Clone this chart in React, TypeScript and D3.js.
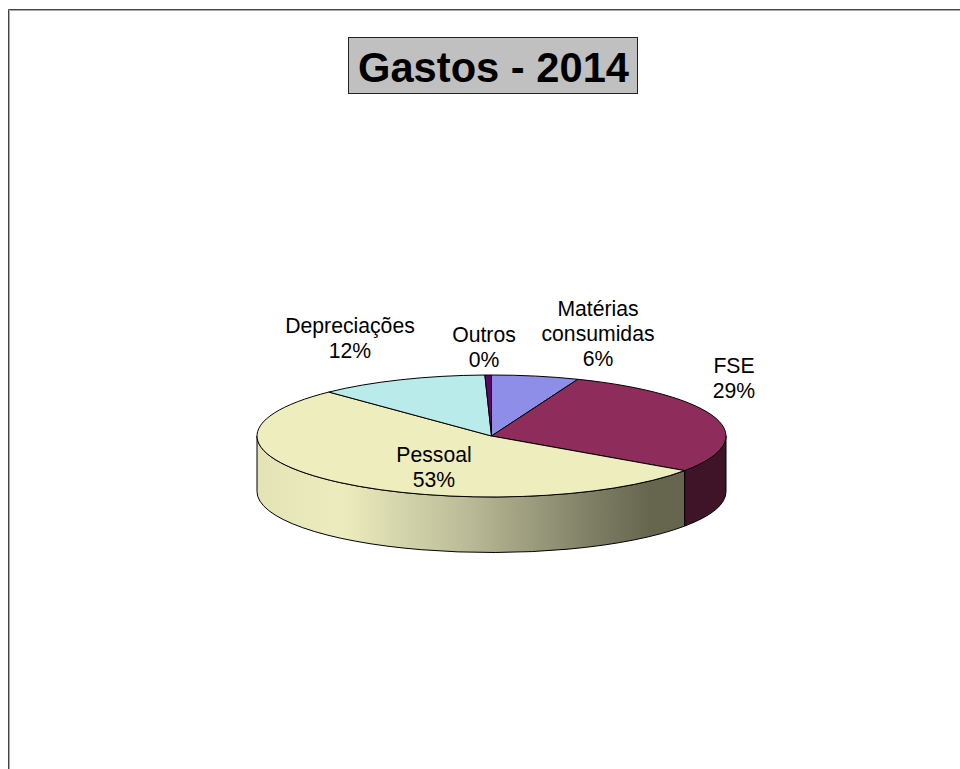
import React from "react";
import * as d3 from "d3";

const categories = ["Matérias consumidas", "FSE", "Pessoal", "Depreciações", "Outros"];
const values = [6, 28.6, 53.2, 11.75, 0.45];
const percentLabels = ["6%", "29%", "53%", "12%", "0%"];
const topColors = ["#8E8EE8", "#8E2D5C", "#EDEDBE", "#BAEBEB", "#5A0A66"];
const sideColor = "#3F1428";
const gradientStops = [
  [0, "#E3E3B6"],
  [0.2, "#ECECBE"],
  [0.5, "#B9B996"],
  [0.78, "#7F7F66"],
  [0.92, "#66664F"],
  [1, "#66664F"],
];
const nameLines = [["Matérias", "consumidas"], ["FSE"], ["Pessoal"], ["Depreciações"], ["Outros"]];
const labelPos = [
  [598, 316],
  [734, 372.5],
  [434, 462],
  [350, 333],
  [484, 341.5],
];

const cx = 491.5;
const cy = 436;
const rx = 234.5;
const ry = 61;
const depth = 55.5;

const px = (a: number) => cx + rx * Math.sin(a);
const py = (a: number) => cy - ry * Math.cos(a);

function sidePath(a0: number, a1: number) {
  const start = Math.max(a0, Math.PI / 2);
  const end = Math.min(a1, (3 * Math.PI) / 2);
  if (start >= end) return "";
  const large = end - start > Math.PI ? 1 : 0;
  return `M${px(start)},${py(start)} A${rx},${ry} 0 ${large} 1 ${px(end)},${py(end)} L${px(end)},${py(end) + depth} A${rx},${ry} 0 ${large} 0 ${px(start)},${py(start) + depth} Z`;
}

export default function App() {
  const arcs = d3.pie<number>().sort(null)(values);
  const arc = d3.arc<d3.PieArcDatum<number>>().innerRadius(0).outerRadius(rx);
  return (
    <svg
      width={960}
      height={769}
      style={{ position: "absolute", left: 0, top: 0, background: "#fff" }}
      fontFamily="Liberation Sans, Arial, sans-serif"
    >
      <defs>
        <linearGradient id="wall" x1="0" x2="1" y1="0" y2="0">
          {gradientStops.map(([o, c]) => (
            <stop key={o as number} offset={o as number} stopColor={c as string} />
          ))}
        </linearGradient>
      </defs>
      <path d="M8.5,769 V9.5 H960" fill="none" stroke="#444" strokeWidth={1} />
      <path d="M9.5,769 V10.5 H960" fill="none" stroke="#aaa" strokeWidth={1} />
      <rect x={348.5} y={37.5} width={289} height={56} fill="#C0C0C0" stroke="#222" strokeWidth={1} />
      <text
        x={358}
        y={82}
        fontSize={43}
        fontWeight="bold"
        fill="#000"
        textLength={271}
        lengthAdjust="spacingAndGlyphs"
      >
        Gastos - 2014
      </text>
      {arcs.map((d, i) => {
        const p = sidePath(d.startAngle, d.endAngle);
        if (!p) return null;
        const isPessoal = categories[i] === "Pessoal";
        return (
          <path
            key={"s" + i}
            d={p}
            fill={isPessoal ? "url(#wall)" : sideColor}
            stroke="#000"
            strokeWidth={1}
          />
        );
      })}
      <g transform={`translate(${cx},${cy}) scale(1,${ry / rx})`}>
        {arcs.map((d, i) => (
          <path
            key={"t" + i}
            d={arc(d) as string}
            fill={topColors[i]}
            stroke="#000"
            strokeWidth={1}
            vectorEffect="non-scaling-stroke"
          />
        ))}
      </g>
      {nameLines.map((names, i) => (
        <text key={"l" + i} textAnchor="middle" fontSize={21.2} fill="#000">
          {[...names, percentLabels[i]].map((t, j) => (
            <tspan key={j} x={labelPos[i][0]} y={labelPos[i][1] + j * 25}>
              {t}
            </tspan>
          ))}
        </text>
      ))}
    </svg>
  );
}
